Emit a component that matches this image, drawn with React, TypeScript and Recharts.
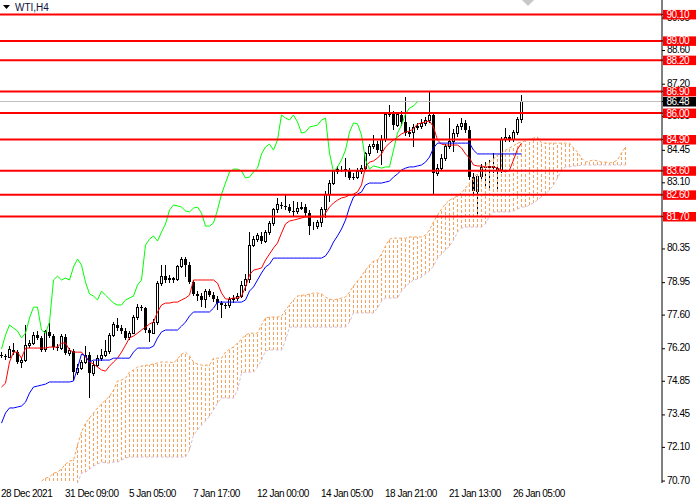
import React from "react";
import { ComposedChart, Bar, Line, XAxis, YAxis, ReferenceLine } from "recharts";

// ── axis labels ────────────────────────────────────────────────
const TIME_TICKS = [0, 16, 32, 48, 64, 80, 96, 112, 128];
const TIME_LABELS = [
  "28 Dec 2021", "31 Dec 09:00", "5 Jan 05:00", "7 Jan 17:00", "12 Jan 00:00",
  "14 Jan 05:00", "18 Jan 21:00", "21 Jan 13:00", "26 Jan 05:00",
];
const PRICE_TICKS = [70.7, 72.1, 73.45, 74.85, 76.2, 77.6, 78.95, 80.35, 81.7, 83.1, 84.45, 85.85, 87.2, 88.6, 89.95];
const LEVELS = [90.1, 89.0, 88.2, 86.9, 86.0, 84.9, 83.6, 82.6, 81.7];
const BID = 86.48;

// ── WTI H4 candles ─────────────────────────────────────────────
const OPEN = [75.95, 75.90, 75.85, 76.15, 76.06, 75.65, 75.73, 76.35, 76.40, 76.77,
  76.65, 76.15, 76.90, 76.73, 76.27, 76.22, 76.70, 76.02, 76.11, 75.23,
  75.40, 75.65, 75.94, 75.19, 75.52, 75.81, 75.94, 76.10, 76.77, 77.19,
  77.06, 76.94, 76.65, 76.85, 77.48, 77.93, 77.88, 76.98, 76.85, 77.31,
  78.90, 79.22, 79.06, 79.14, 79.06, 79.60, 79.93, 79.68, 78.97, 78.48,
  78.39, 78.23, 78.60, 78.43, 78.27, 78.10, 78.02, 77.98, 78.23, 78.31,
  78.39, 78.85, 79.06, 80.51, 80.76, 80.89, 80.68, 81.05, 81.39, 81.97,
  82.18, 82.14, 82.09, 81.93, 81.89, 82.05, 82.09, 81.84, 81.30, 81.30,
  81.43, 81.97, 82.63, 83.09, 83.55, 83.67, 83.67, 83.59, 83.30, 83.34,
  83.55, 83.71, 84.30, 84.59, 84.71, 84.46, 84.88, 85.92, 86.00, 85.50,
  85.92, 85.63, 85.17, 85.21, 85.42, 85.46, 85.55, 85.71, 85.90, 83.50,
  83.70, 84.13, 84.59, 84.80, 85.15, 85.45, 85.58, 85.30, 83.35, 82.75,
  83.35, 83.75, 83.72, 83.78, 83.70, 83.60, 84.88, 85.00, 84.90, 85.20,
  85.75];
const HIGH = [76.05, 76.00, 76.30, 76.45, 76.15, 75.80, 77.19, 76.55, 76.90, 76.95,
  76.75, 77.00, 77.27, 76.80, 76.40, 76.80, 76.80, 76.25, 76.20, 75.55,
  75.75, 76.30, 76.05, 75.70, 75.95, 76.20, 76.55, 76.85, 77.30, 77.50,
  77.20, 77.05, 76.95, 77.60, 78.05, 78.00, 77.95, 77.05, 77.45, 79.00,
  79.70, 79.70, 79.25, 79.20, 79.70, 80.00, 80.00, 79.80, 79.05, 78.60,
  78.50, 78.70, 78.70, 78.55, 78.40, 78.20, 78.10, 78.35, 78.45, 78.50,
  79.00, 79.30, 81.05, 80.90, 81.00, 81.05, 81.15, 81.50, 82.05, 82.47,
  82.30, 82.59, 82.20, 82.35, 82.30, 82.30, 82.20, 81.95, 81.45, 81.55,
  82.10, 82.75, 83.20, 83.65, 83.80, 83.80, 84.13, 83.70, 83.50, 83.70,
  83.85, 84.40, 84.70, 85.09, 84.85, 85.09, 86.05, 86.35, 86.10, 86.05,
  86.10, 86.67, 85.40, 85.55, 85.60, 85.75, 85.85, 86.87, 86.00, 83.90,
  84.30, 84.70, 85.79, 85.35, 85.55, 85.80, 85.70, 85.45, 83.50, 83.45,
  83.90, 83.96, 84.05, 84.34, 83.85, 85.02, 85.38, 85.10, 85.30, 85.85,
  86.75];
const LOW = [75.80, 75.75, 75.80, 75.95, 75.55, 75.40, 75.65, 76.25, 76.35, 76.55,
  76.05, 76.05, 76.65, 76.15, 76.10, 76.15, 75.95, 75.90, 74.90, 75.10,
  75.30, 75.55, 74.15, 75.05, 75.45, 75.70, 75.85, 76.00, 76.70, 76.95,
  76.80, 76.55, 76.55, 76.80, 77.40, 77.75, 76.85, 76.50, 76.80, 77.20,
  78.80, 78.95, 78.95, 78.95, 79.00, 79.55, 79.18, 78.90, 78.40, 78.20,
  77.95, 77.90, 78.35, 78.15, 77.80, 77.48, 77.85, 77.90, 78.10, 78.20,
  78.30, 78.60, 78.95, 80.45, 80.65, 80.55, 80.60, 80.95, 81.30, 81.85,
  82.00, 81.97, 81.85, 81.70, 81.80, 81.95, 81.70, 80.93, 81.15, 81.20,
  81.26, 81.65, 82.30, 83.00, 83.45, 83.55, 83.34, 83.20, 83.20, 83.25,
  83.45, 83.60, 84.20, 84.50, 84.35, 83.84, 84.80, 85.85, 85.30, 85.40,
  85.45, 85.05, 85.00, 84.60, 85.30, 85.35, 85.45, 85.60, 82.60, 83.40,
  83.60, 84.00, 84.50, 84.40, 85.00, 85.30, 85.15, 83.20, 82.60, 81.76,
  83.20, 82.93, 82.90, 83.50, 82.70, 83.50, 84.80, 84.80, 84.80, 85.10,
  85.60];
const CLOSE = [75.90, 75.85, 76.15, 76.06, 75.65, 75.73, 76.35, 76.40, 76.77, 76.65,
  76.15, 76.90, 76.73, 76.27, 76.22, 76.70, 76.02, 76.11, 75.23, 75.40,
  75.65, 75.94, 75.19, 75.52, 75.81, 75.94, 76.10, 76.77, 77.19, 77.06,
  76.94, 76.65, 76.85, 77.48, 77.93, 77.88, 76.98, 76.85, 77.31, 78.90,
  79.22, 79.06, 79.14, 79.06, 79.60, 79.93, 79.68, 78.97, 78.48, 78.39,
  78.23, 78.60, 78.43, 78.27, 78.10, 78.02, 77.98, 78.23, 78.31, 78.39,
  78.85, 79.06, 80.51, 80.76, 80.89, 80.68, 81.05, 81.39, 81.97, 82.18,
  82.14, 82.09, 81.93, 81.89, 82.05, 82.09, 81.84, 81.30, 81.30, 81.43,
  81.97, 82.63, 83.09, 83.55, 83.67, 83.67, 83.59, 83.30, 83.34, 83.55,
  83.71, 84.30, 84.59, 84.71, 84.46, 84.88, 85.92, 86.00, 85.50, 85.92,
  85.63, 85.17, 85.21, 85.42, 85.46, 85.55, 85.71, 85.90, 83.50, 83.70,
  84.13, 84.59, 84.80, 85.15, 85.45, 85.58, 85.30, 83.35, 82.75, 83.35,
  83.75, 83.72, 83.78, 83.70, 83.60, 84.88, 85.00, 84.90, 85.20, 85.75,
  86.48];

// ── Ichimoku lines ─────────────────────────────────────────────
const TENKAN = [74.61, 74.77, 75.65, 76.06, 76.06, 75.81, 76.23, 76.23, 76.23, 76.23,
  76.23, 76.23, 76.27, 76.27, 76.27, 76.44, 76.44, 76.15, 76.06, 76.06,
  76.06, 75.86, 75.65, 75.57, 75.44, 75.32, 75.27, 75.48, 75.65, 75.81,
  76.06, 76.35, 76.65, 76.73, 76.85, 76.98, 77.10, 77.23, 77.31, 77.73,
  78.02, 78.10, 78.10, 78.14, 78.14, 78.23, 78.31, 78.43, 79.06, 79.06,
  79.06, 79.06, 79.06, 79.06, 78.93, 78.52, 78.27, 78.27, 78.31, 78.31,
  78.39, 78.77, 79.27, 79.47, 79.51, 79.56, 79.89, 80.14, 80.39, 80.60,
  81.01, 81.39, 81.51, 81.55, 81.59, 81.64, 81.68, 81.68, 81.68, 81.68,
  81.68, 81.84, 82.09, 82.26, 82.38, 82.47, 82.51, 82.59, 82.63, 82.72,
  83.01, 83.76, 83.96, 84.01, 84.13, 84.30, 84.59, 84.75, 84.88, 85.00,
  85.13, 85.21, 85.25, 85.34, 85.54, 85.59, 85.63, 85.67, 85.42, 84.88,
  84.71, 84.67, 84.67, 84.67, 84.67, 84.55, 84.30, 84.13, 83.84, 83.80,
  83.80, 83.76, 83.76, 83.76, 83.71, 83.63, 83.55, 83.63, 84.05, 84.50,
  84.75];
const KIJUN = [73.11, 73.53, 73.74, 73.74, 73.78, 73.82, 73.98, 74.36, 74.61, 74.65,
  74.69, 74.73, 74.82, 74.82, 74.82, 74.82, 74.82, 74.82, 74.86, 75.40,
  75.98, 75.90, 75.65, 75.73, 75.73, 75.73, 75.73, 75.73, 75.81, 75.81,
  75.81, 75.81, 75.81, 76.06, 76.23, 76.23, 76.23, 76.23, 76.31, 76.65,
  76.90, 76.98, 76.98, 76.98, 76.98, 77.14, 77.31, 77.56, 77.73, 77.73,
  77.73, 77.73, 77.73, 77.89, 78.14, 78.14, 78.14, 78.14, 78.14, 78.14,
  78.14, 78.23, 78.60, 78.77, 79.06, 79.35, 79.60, 79.72, 79.97, 79.97,
  79.97, 79.97, 79.97, 79.97, 79.97, 79.97, 79.97, 79.97, 79.97, 79.97,
  79.97, 80.06, 80.30, 80.64, 80.89, 81.18, 81.55, 82.09, 82.51, 82.63,
  82.72, 83.01, 83.09, 83.09, 83.09, 83.09, 83.13, 83.17, 83.34, 83.47,
  83.63, 83.71, 83.76, 83.76, 83.80, 83.84, 83.96, 84.17, 84.55, 84.75,
  84.75, 84.75, 84.75, 84.75, 84.75, 84.75, 84.75, 84.75, 84.46, 84.30,
  84.30, 84.30, 84.30, 84.30, 84.30, 84.30, 84.30, 84.30, 84.30, 84.30,
  84.30];
// lagging span, plotted 26 bars back
const CHIKOU = [76.19, 76.77, 77.19, 77.06, 76.94, 76.65, 76.85, 77.48, 77.93, 77.93,
  76.98, 76.85, 77.31, 79.06, 79.22, 79.06, 79.14, 79.06, 79.60, 79.93,
  79.68, 78.97, 78.48, 78.39, 78.23, 78.60, 78.43, 78.27, 78.10, 78.02,
  78.02, 78.23, 78.31, 78.39, 78.85, 79.06, 80.51, 80.76, 80.89, 80.68,
  81.05, 81.39, 81.97, 82.18, 82.14, 82.09, 81.93, 81.89, 82.05, 82.09,
  81.84, 81.30, 81.30, 81.43, 81.97, 82.63, 83.09, 83.55, 83.67, 83.67,
  83.59, 83.30, 83.34, 83.55, 83.71, 84.30, 84.59, 84.71, 84.46, 84.88,
  85.92, 85.79, 85.71, 85.92, 85.63, 85.17, 85.21, 85.42, 85.46, 85.50,
  85.71, 85.79, 84.34, 83.55, 83.76, 84.05, 84.46, 85.21, 85.59, 85.55,
  85.09, 84.05, 83.67, 83.80, 83.76, 83.71, 83.76, 83.76, 84.46, 85.17,
  85.50, 85.96, 86.21, 86.29, 86.48];
// leading spans, plotted 26 bars ahead; first value sits on bar CLOUD_START
const CLOUD_START = 10;
const SPAN_A = [70.70, 70.82, 70.87, 71.03, 71.07, 71.20, 71.41, 71.53, 71.57, 72.20,
  72.74, 73.11, 73.32, 73.53, 73.74, 73.90, 74.07, 74.23, 74.48, 74.86,
  74.90, 74.98, 75.23, 75.32, 75.44, 75.48, 75.52, 75.52, 75.57, 75.61,
  75.65, 75.65, 75.65, 75.61, 75.77, 75.98, 76.06, 75.90, 75.65, 75.57,
  75.52, 75.52, 75.52, 75.81, 75.81, 75.81, 76.06, 76.19, 76.27, 76.44,
  76.60, 76.77, 76.85, 76.85, 76.85, 77.19, 77.48, 77.52, 77.52, 77.52,
  77.56, 77.81, 78.02, 78.23, 78.39, 78.43, 78.43, 78.48, 78.52, 78.52,
  78.48, 78.35, 78.27, 78.23, 78.27, 78.31, 78.35, 78.56, 78.81, 79.02,
  79.22, 79.47, 79.68, 79.85, 79.89, 80.14, 80.47, 80.76, 80.80, 80.80,
  80.80, 80.80, 80.85, 80.85, 80.85, 80.85, 80.93, 81.14, 81.47, 81.76,
  82.01, 82.22, 82.38, 82.47, 82.55, 82.68, 82.88, 83.09, 83.30, 83.51,
  83.67, 83.84, 83.96, 84.09, 84.26, 84.34, 84.46, 84.55, 84.63, 84.75,
  84.80, 84.84, 84.92, 84.96, 85.00, 84.75, 84.75, 84.75, 84.75, 84.75,
  84.75, 84.75, 84.75, 84.55, 84.38, 84.13, 83.96, 84.01, 84.05, 84.01,
  83.96, 83.96, 83.92, 83.96, 84.05, 84.34, 84.59];
const SPAN_B = [70.30, 70.30, 70.30, 70.30, 70.30, 70.30, 70.30, 70.30, 70.30, 70.62,
  71.03, 71.07, 71.20, 71.32, 71.41, 71.49, 71.45, 71.45, 71.49, 71.49,
  71.57, 71.66, 71.70, 71.70, 71.70, 71.70, 71.70, 71.70, 71.70, 71.70,
  71.70, 71.70, 71.70, 71.70, 71.70, 71.70, 71.70, 71.99, 72.61, 72.82,
  73.03, 73.20, 73.40, 73.65, 73.94, 74.15, 74.15, 74.15, 74.15, 74.48,
  75.19, 75.23, 75.23, 75.23, 75.44, 75.73, 76.11, 76.15, 76.15, 76.15,
  76.15, 76.56, 77.10, 77.10, 77.10, 77.10, 77.10, 77.10, 77.10, 77.10,
  77.10, 77.10, 77.10, 77.10, 77.10, 77.10, 77.10, 77.31, 77.69, 77.69,
  77.69, 77.69, 77.69, 77.69, 77.89, 78.18, 78.31, 78.31, 78.31, 78.31,
  78.60, 78.77, 78.93, 79.06, 79.10, 79.18, 79.31, 79.43, 79.64, 79.97,
  80.14, 80.30, 80.47, 80.72, 81.05, 81.22, 81.26, 81.26, 81.26, 81.26,
  81.26, 81.39, 81.72, 81.89, 81.89, 81.89, 81.89, 81.89, 81.93, 82.01,
  82.09, 82.09, 82.18, 82.26, 82.38, 82.51, 82.63, 82.80, 83.01, 83.30,
  83.63, 83.76, 83.76, 83.80, 83.80, 83.84, 83.84, 83.84, 83.84, 83.84,
  83.84, 83.84, 83.84, 83.84, 83.84, 83.84, 83.84];

const SLOTS = CLOUD_START + SPAN_A.length; // 157 bars incl. the shifted cloud

const rows = Array.from({ length: SLOTS }, (_, i) => {
  const c = i - CLOUD_START;
  const inCloud = c >= 0 && c < SPAN_A.length;
  return {
    x: i,
    range: i < CLOSE.length ? [LOW[i], HIGH[i]] : undefined,
    open: OPEN[i],
    high: HIGH[i],
    low: LOW[i],
    close: CLOSE[i],
    tenkan: TENKAN[i],
    kijun: KIJUN[i],
    chikou: CHIKOU[i],
    spanA: inCloud ? SPAN_A[c] : undefined,
    spanB: inCloud ? SPAN_B[c] : undefined,
    cloud: inCloud ? [SPAN_B[c], SPAN_A[c]] : undefined,
  };
});

// price-axis ticks: plain labels first, then the tagged levels so the tags sit on top
const AXIS_TICKS = [...PRICE_TICKS.filter((t) => !LEVELS.includes(t)), BID, ...LEVELS];

const FONT = "'Liberation Sans', Arial, sans-serif";
const HATCH = "#F4A460";

// snap a band centre onto a pixel column so 1px strokes stay crisp
const column = (x: number, width: number) => Math.round(x + width / 2 - 0.5) + 0.5;

// candle drawn inside the [low, high] bar the library positions for us
function Candle(props: any) {
  const { x, y, width, height, payload } = props;
  if (payload == null || payload.high == null) return null;
  const cx = column(x, width);
  const k = height / (payload.high - payload.low || 1);
  const py = (v: number) => y + (payload.high - v) * k;
  const yo = py(payload.open);
  const yc = py(payload.close);
  const top = Math.min(yo, yc);
  const bot = Math.max(yo, yc);
  const bull = payload.close >= payload.open;
  return (
    <g shapeRendering="crispEdges">
      <line x1={cx} x2={cx} y1={y} y2={y + height} stroke="#000" strokeWidth={1} />
      {bull ? (
        <rect x={cx - 1} y={top} width={2} height={bot - top} fill="#fff" stroke="#000" strokeWidth={1} />
      ) : (
        <rect x={cx - 1.5} y={top} width={3} height={Math.max(bot - top, 1)} fill="#000" />
      )}
    </g>
  );
}

// one dotted hatch stroke per bar between the two leading spans, dashes counted up from span B
function Hatch(props: any) {
  const { x, y, width, height } = props;
  if (height == null || Number.isNaN(height)) return null;
  const cx = column(x, width);
  const top = Math.min(y, y + height);
  const bottom = Math.max(y, y + height);
  const d: string[] = [];
  for (let yy = bottom; yy > top; yy -= 5) {
    const y0 = Math.max(top, yy - 3);
    d.push(`M${cx} ${yy}V${y0}`);
  }
  return <path d={d.join("")} stroke={HATCH} strokeWidth={1} fill="none" shapeRendering="crispEdges" />;
}

function TimeTick(props: any) {
  const { x, y, payload } = props;
  const idx = TIME_TICKS.indexOf(payload.value);
  return (
    <text x={x - 0.5} y={Math.min(y + 8, 497)} fontSize={10} letterSpacing={-0.5} fontFamily={FONT} fill="#000">
      {TIME_LABELS[idx]}
    </text>
  );
}

function PriceTick(props: any) {
  const { x, y, payload } = props;
  const v = Number(payload.value);
  const isLevel = LEVELS.includes(v);
  const isBid = v === BID;
  if (isLevel || isBid) {
    return (
      <g>
        <rect x={x - 4} y={y - 4.5} width={33} height={9.5} fill={isBid ? "#000" : "#FF0000"} />
        <text x={x - 0.5} y={y + 3.5} fontSize={10} letterSpacing={-0.5} fontFamily={FONT} fill="#fff">
          {v.toFixed(2)}
        </text>
      </g>
    );
  }
  return (
    <text x={x} y={y + 2.5} fontSize={10} letterSpacing={-0.5} fontFamily={FONT} fill="#000">
      {v.toFixed(2)}
    </text>
  );
}

export default function App() {
  return (
    <div style={{ position: "absolute", left: 0, top: 0, width: 700, height: 500, background: "#fff" }}>
      <ComposedChart width={700} height={500} data={rows} margin={{ top: 0, right: 0, bottom: 0, left: 0 }}>
        <XAxis
          xAxisId="main"
          type="number"
          dataKey="x"
          domain={[-0.375, 165.125]}
          allowDataOverflow
          ticks={TIME_TICKS}
          interval={0}
          height={17}
          tickSize={4}
          tickMargin={2}
          axisLine={{ stroke: "#000" }}
          tickLine={{ stroke: "#000" }}
          tick={TimeTick}
        />
        <XAxis xAxisId="cloud" type="number" dataKey="x" domain={[-0.375, 165.125]} allowDataOverflow hide />
        <YAxis
          orientation="right"
          width={38}
          domain={[70.62, 90.7]}
          allowDataOverflow
          ticks={AXIS_TICKS}
          interval={0}
          tickSize={3}
          tickMargin={2}
          axisLine={{ stroke: "#000" }}
          tickLine={{ stroke: "#000" }}
          tick={PriceTick}
        />

        <ReferenceLine xAxisId="main" y={BID} stroke="#C0C0C0" strokeWidth={1} />

        <Bar xAxisId="main" dataKey="range" barSize={2} shape={Candle} isAnimationActive={false} />
        <Bar xAxisId="cloud" dataKey="cloud" barSize={2} shape={Hatch} isAnimationActive={false} />

        <Line xAxisId="main" dataKey="spanA" stroke={HATCH} strokeWidth={1} strokeDasharray="3 2" dot={false} activeDot={false} isAnimationActive={false} />
        <Line xAxisId="main" dataKey="spanB" stroke="#D8BFD8" strokeWidth={1} strokeDasharray="3 2" dot={false} activeDot={false} isAnimationActive={false} />
        <Line xAxisId="main" dataKey="tenkan" stroke="#FF0000" strokeWidth={1} dot={false} activeDot={false} isAnimationActive={false} />
        <Line xAxisId="main" dataKey="kijun" stroke="#0000FF" strokeWidth={1} dot={false} activeDot={false} isAnimationActive={false} />
        <Line xAxisId="main" dataKey="chikou" stroke="#00FF00" strokeWidth={1} dot={false} activeDot={false} isAnimationActive={false} />

        {LEVELS.map((v) => (
          <ReferenceLine key={v} xAxisId="main" y={v} stroke="#FF0000" strokeWidth={2} />
        ))}
      </ComposedChart>

      <svg width={700} height={20} style={{ position: "absolute", left: 0, top: 0, pointerEvents: "none" }}>
        <polygon points="3,5 10,5 6.5,9" fill="#000" />
        <text x={15} y={11} fontSize={10} fontFamily={FONT} fill="#101040">WTI,H4</text>
        <polygon points="522,0 534,0 528,6" fill="#C8C8C8" />
      </svg>
    </div>
  );
}
